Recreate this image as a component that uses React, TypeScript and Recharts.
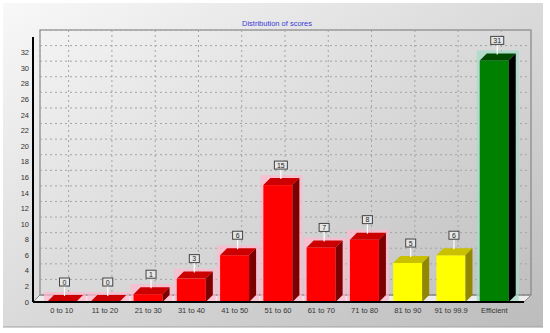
import React from 'react';
import { BarChart, Bar, XAxis, YAxis, CartesianGrid, LabelList } from 'recharts';

const categories = ['0 to 10', '11 to 20', '21 to 30', '31 to 40', '41 to 50', '51 to 60',
    '61 to 70', '71 to 80', '81 to 90', '91 to 99.9', 'Efficient'];
const counts = [0, 0, 1, 3, 6, 15, 7, 8, 5, 6, 31];
const bands = ['fail', 'fail', 'fail', 'fail', 'fail', 'fail', 'fail', 'fail', 'pass', 'pass', 'efficient'];
const yTicks = [0, 2, 4, 6, 8, 10, 12, 14, 16, 18, 20, 22, 24, 26, 28, 30, 32];
const title = 'Distribution of scores';

const data = categories.map((name, i) => ({ name, count: counts[i] }));

// layout
const W = 550;
const H = 333;
const LEFT = 33;
const TOP = 37;
const RIGHT = 524;
const BOTTOM = 302;
const D = 7; // 3d depth
const FONT = '"Liberation Sans", Arial, sans-serif';

const shades: any = {
    fail: { front: '#ff0000', top: '#cc0000', side: '#7c0000', glow: '#ffb8cc' },
    pass: { front: '#ffff00', top: '#c8c000', side: '#908800', glow: '' },
    efficient: { front: '#008000', top: '#004a00', side: '#000000', glow: '#a6dcc8' },
};

const Bar3D = (p: any) => {
    const x = Number(p.x), y = Number(p.y), w = Number(p.width), h = Number(p.height);
    const s = shades[bands[p.index]];
    const x1 = x + w;
    const yb = y + h;
    return (
        <g>
            {s.glow && <rect x={x - 3} y={y - D - 3} width={w + D + 6} height={h + D + 3} fill={s.glow} opacity={0.75}/>}
            <rect x={x} y={y} width={w} height={h} fill={s.front}/>
            <polygon points={`${x},${y} ${x1},${y} ${x1 + D},${y - D} ${x + D},${y - D}`} fill={s.top}/>
            <polygon points={`${x1},${y} ${x1 + D},${y - D} ${x1 + D},${yb - D} ${x1},${yb}`} fill={s.side}/>
        </g>
    );
};

const ValueTag = (p: any) => {
    const x = Number(p.x), y = Number(p.y), w = Number(p.width);
    const cx = x + w / 2 + 3;
    const bw = 7 + 3 * String(p.value).length;
    const by = y - 24;
    return (
        <g>
            <line x1={cx} x2={cx} y1={by + 8} y2={y - D + 1} stroke="#ffffff" strokeWidth={1.2}/>
            <rect x={cx - bw / 2} y={by} width={bw} height={8} fill="#e6e6e6" stroke="#444" strokeWidth={1}/>
            <text x={cx} y={by + 4.3} textAnchor="middle" dominantBaseline="central" fontSize={7}
                  fontFamily={FONT} fill="#222">{p.value}</text>
        </g>
    );
};

const gridLine = (p: any) => (
    <line key={p.key} x1={p.x1 + D} y1={p.y1 - D} x2={p.x2 + D} y2={p.y2 - D}
          stroke="#a4a4a4" strokeWidth={1} strokeDasharray="2 3"/>
);

export default function App() {
    return (
        <div style={{ position: 'absolute', left: 0, top: 0, width: W, height: H }}>
            <svg width={W} height={H} style={{ position: 'absolute', left: 0, top: 0 }}>
                <defs>
                    <linearGradient id="panel" x1="0" y1="0" x2="1" y2="1">
                        <stop offset="0%" stopColor="#f8f8f8"/>
                        <stop offset="100%" stopColor="#bcbcbc"/>
                    </linearGradient>
                </defs>
                <rect width={W} height={H} fill="#ffffff"/>
                <rect x={3} y={3} width={540} height={324} fill="url(#panel)"/>
                <line x1={3} y1={327} x2={543} y2={327} stroke="#a0a0a0"/>
                <polygon points={`${LEFT},${BOTTOM} ${RIGHT},${BOTTOM} ${RIGHT + D},${BOTTOM - D} ${LEFT + D},${BOTTOM - D}`}
                         fill="#ececec" stroke="#888" strokeWidth={1}/>
                <rect x={LEFT + D} y={TOP - D} width={RIGHT - LEFT} height={BOTTOM - TOP} fill="none"
                      stroke="#777" strokeWidth={1}/>
                <text x={277} y={23} textAnchor="middle" dominantBaseline="central" fontSize={7.5}
                      fontFamily={FONT} fill="#3a3ad8">{title}</text>
            </svg>
            <div style={{ position: 'absolute', left: 0, top: 0 }}>
                <BarChart width={W} height={H} data={data}
                          margin={{ top: TOP, right: W - RIGHT, bottom: 7, left: 0 }}>
                    <CartesianGrid horizontal={gridLine} vertical={gridLine}/>
                    <XAxis dataKey="name" padding={{ left: 7, right: 8 }} height={24} interval={0}
                           tickLine={false} tickSize={2} tickMargin={4}
                           axisLine={{ stroke: '#000', strokeWidth: 2 }}
                           tick={{ fontSize: 7.5, fill: '#333', fontFamily: FONT }}/>
                    <YAxis domain={[0, 34]} ticks={yTicks} interval={0} width={LEFT}
                           tickLine={false} tickSize={2} tickMargin={2}
                           axisLine={{ stroke: '#000', strokeWidth: 2 }}
                           tick={{ fontSize: 7.5, fill: '#333', fontFamily: FONT }}/>
                    <Bar dataKey="count" barSize={29} shape={Bar3D} isAnimationActive={false}>
                        <LabelList dataKey="count" content={ValueTag}/>
                    </Bar>
                </BarChart>
            </div>
        </div>
    );
}
